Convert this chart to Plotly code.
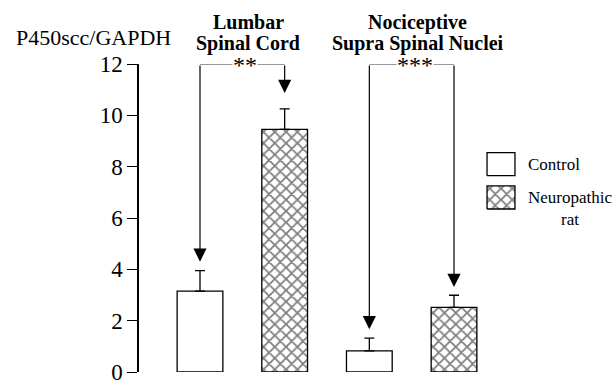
import plotly.graph_objects as go

# ---- data ----
region_line1 = ["Lumbar", "Nociceptive"]
region_line2 = ["Spinal Cord", "Supra Spinal Nuclei"]
groups = ["Control", "Neuropathic<br>rat"]
control_mean = [3.15, 0.82]
control_sem = [0.80, 0.50]
neuro_mean = [9.45, 2.52]
neuro_sem = [0.80, 0.47]
significance = ["**", "***"]
arrow_gap = [0.35, 0.62, 0.35, 0.32]   # gap above error bars (control, neuro per region)
y_ticks = [0, 2, 4, 6, 8, 10, 12]
y_title = "P450scc/GAPDH"

SERIF = "Liberation Serif"
LINE = "#333333"

W, H = 615, 380
ML, MT, MB = 139, 64, 8
PH = H - MT - MB
PW = W - ML


def py(pix):
    """pixel row -> paper y"""
    return 1 + (MT - pix) / PH


def pxp(pix):
    """pixel column -> paper x"""
    return (pix - ML) / PW


# bar positions: control / neuropathic for each region
ctrl_x = [1, 3]
neuro_x = [2, 4]
PATTERN = dict(shape="x", size=8, solidity=0.4, fgcolor="black", bgcolor="white")

fig = go.Figure()
fig.add_trace(go.Bar(
    x=ctrl_x, y=control_mean, width=0.54, name="Control", showlegend=False,
    marker=dict(color="white", line=dict(color="black", width=1.3)),
    error_y=dict(type="data", array=control_sem, arrayminus=[0, 0], symmetric=False,
                 color="black", thickness=1.3, width=5),
))
fig.add_trace(go.Bar(
    x=neuro_x, y=neuro_mean, width=0.54, name="Neuropathic rat", showlegend=False,
    marker=dict(color="white", line=dict(color="black", width=1.3), pattern=PATTERN),
    error_y=dict(type="data", array=neuro_sem, arrayminus=[0, 0], symmetric=False,
                 color="black", thickness=1.3, width=5),
))

top = y_ticks[-1]
annotations = []
shapes = []
for i in range(2):
    xl, xr = ctrl_x[i], neuro_x[i]
    tip_l = control_mean[i] + control_sem[i] + arrow_gap[2 * i]
    tip_r = neuro_mean[i] + neuro_sem[i] + arrow_gap[2 * i + 1]
    shapes.append(dict(type="line", xref="x", yref="y", x0=xl, x1=xr, y0=top, y1=top,
                       line=dict(color=LINE, width=1.2)))
    for xx, tip in ((xl, tip_l), (xr, tip_r)):
        annotations.append(dict(x=xx, y=tip, ax=xx, ay=top, xref="x", yref="y",
                                axref="x", ayref="y", text="", showarrow=True,
                                arrowhead=2, arrowsize=2.2, arrowwidth=1.2,
                                arrowcolor="black", standoff=0, startstandoff=0))
    mid = (xl + xr) / 2
    annotations.append(dict(x=mid, y=top, xref="x", yref="y", text=significance[i],
                            showarrow=False, bgcolor="white", xshift=3, yshift=-1,
                            font=dict(family=SERIF, size=24, color="black"),
                            borderpad=0))
    annotations.append(dict(x=mid, y=py(22), xref="x", yref="paper",
                            text="<b>" + region_line1[i] + "</b>",
                            showarrow=False, yanchor="middle", xanchor="center", xshift=6,
                            font=dict(family=SERIF, size=20, color="black")))
    annotations.append(dict(x=mid, y=py(43), xref="x", yref="paper",
                            text="<b>" + region_line2[i] + "</b>",
                            showarrow=False, yanchor="middle", xanchor="center", xshift=6,
                            font=dict(family=SERIF, size=20, color="black")))

# legend (drawn manually)
leg_x0, leg_x1 = 4.39, 4.72
leg_rows = [(7.65, 8.55), (6.35, 7.25)]
for j, (y0, y1) in enumerate(leg_rows):
    fig.add_trace(go.Scatter(
        x=[leg_x0, leg_x1, leg_x1, leg_x0, leg_x0], y=[y0, y0, y1, y1, y0],
        mode="lines", fill="toself", fillcolor="white",
        fillpattern=PATTERN if j == 1 else dict(shape=""),
        line=dict(color="black", width=1.3), showlegend=False, hoverinfo="skip",
        cliponaxis=False,
    ))
    annotations.append(dict(x=leg_x1 + 0.13, y=(y0 + y1) / 2,
                            xref="x", yref="y", text=groups[j], showarrow=False,
                            xanchor="left", yanchor="middle" if j == 0 else "top",
                            yshift=0 if j == 0 else 11, align="center",
                            font=dict(family=SERIF, size=17, color="black")))

annotations.append(dict(x=pxp(93), y=py(37), xref="paper", yref="paper", text=y_title,
                        showarrow=False, xanchor="center", yanchor="middle",
                        font=dict(family=SERIF, size=22, color="black")))

px_per = 84.67
x_left = 1 - (200 - ML) / px_per
x_right = 1 + (W - 200) / px_per

fig.update_layout(
    width=W, height=H,
    margin=dict(l=ML, r=0, t=MT, b=MB, autoexpand=False),
    plot_bgcolor="white", paper_bgcolor="white",
    barmode="overlay",
    xaxis=dict(range=[x_left, x_right], visible=False, fixedrange=True, automargin=False),
    yaxis=dict(range=[0, top], tickvals=y_ticks, ticks="outside", ticklen=10, tickwidth=1.3,
               tickcolor="black", showline=True, linecolor="black", linewidth=1.5,
               showgrid=False, zeroline=False, ticklabeloverflow="allow", automargin=False,
               tickfont=dict(family=SERIF, size=23, color="black")),
    annotations=annotations, shapes=shapes,
    showlegend=False,
)
fig.write_html("out.html")
